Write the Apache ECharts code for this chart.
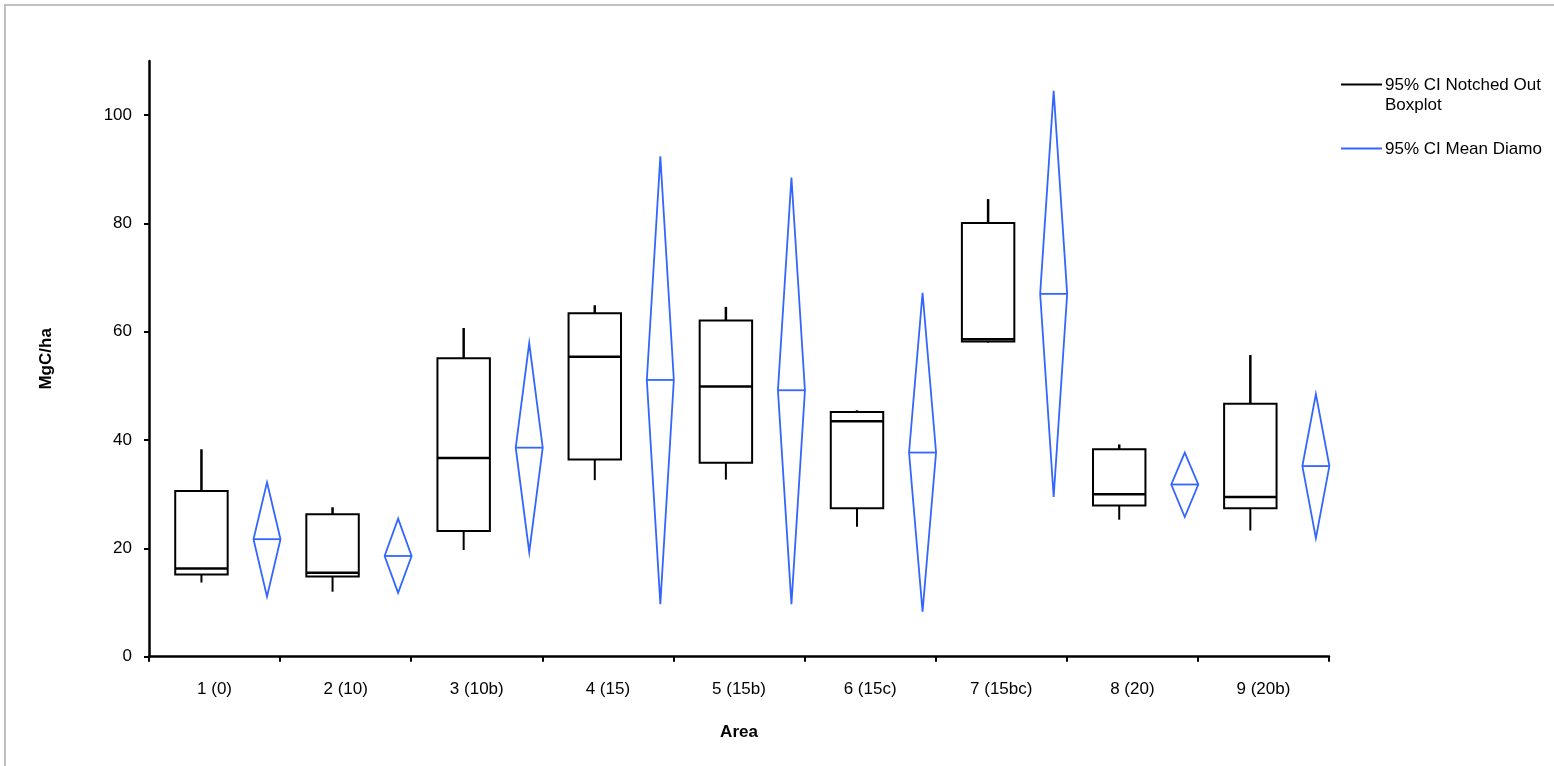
<!DOCTYPE html>
<html>
<head>
<meta charset="utf-8">
<script src="https://cdn.jsdelivr.net/npm/echarts@6/dist/echarts.min.js"></script>
<style>
html,body{margin:0;padding:0;background:#fff;}
#chart{width:1554px;height:766px;}
</style>
</head>
<body>
<div id="chart"></div>
<script>
// ---- data ----
var categories = ['1 (0)', '2 (10)', '3 (10b)', '4 (15)', '5 (15b)', '6 (15c)', '7 (15bc)', '8 (20)', '9 (20b)'];
var whiskerLow  = [13.7, 12.0, 19.7, 32.6, 32.7, 24.0, 58.0, 25.3, 23.3];
var q1          = [15.2, 14.8, 23.2, 36.4, 35.8, 27.4, 58.2, 27.9, 27.4];
var median      = [16.3, 15.5, 36.7, 55.4, 49.9, 43.5, 58.6, 30.0, 29.5];
var q3          = [30.6, 26.3, 55.1, 63.4, 62.1, 45.2, 80.1, 38.3, 46.7];
var whiskerHigh = [38.3, 27.6, 60.7, 64.9, 64.6, 45.5, 84.5, 39.2, 55.7];
var ciLow  = [11.1, 11.8, 19.3, 9.7, 9.7, 8.3, 29.5, 25.8, 21.9];
var mean   = [21.7, 18.6, 38.6, 51.1, 49.2, 37.7, 67.0, 31.8, 35.2];
var ciHigh = [32.2, 25.5, 57.9, 92.4, 88.5, 67.2, 104.5, 37.7, 48.5];
var yTicks = [0, 20, 40, 60, 80, 100];
var seriesNames = ['95% CI Notched Outlier Boxplot', '95% CI Mean Diamond'];
var legendLabels = ['95% CI Notched Outlier\nBoxplot', '95% CI Mean Diamond'];

var BLUE = '#3366ff';
var FONT = 'Liberation Sans, Arial, sans-serif';

var boxData = categories.map(function (c, i) {
  return [i, whiskerLow[i], q1[i], median[i], q3[i], whiskerHigh[i]];
});
var diaData = categories.map(function (c, i) {
  return [i, ciLow[i], mean[i], ciHigh[i]];
});

function renderBox(params, api) {
  var i = api.value(0);
  var bw = api.size([1, 0])[0];
  var cx = api.coord([i, 0])[0] - 0.1 * bw;
  var hw = 0.2 * bw;
  var yLo = api.coord([i, api.value(1)])[1];
  var yQ1 = api.coord([i, api.value(2)])[1];
  var yMed = api.coord([i, api.value(3)])[1];
  var yQ3 = api.coord([i, api.value(4)])[1];
  var yHi = api.coord([i, api.value(5)])[1];
  return {
    type: 'group',
    children: [
      {type: 'line', shape: {x1: cx, y1: yQ3, x2: cx, y2: yHi}, style: {stroke: '#000', lineWidth: 2.5}},
      {type: 'line', shape: {x1: cx, y1: yQ1, x2: cx, y2: yLo}, style: {stroke: '#000', lineWidth: 2}},
      {type: 'rect', shape: {x: cx - hw, y: yQ3, width: 2 * hw, height: yQ1 - yQ3}, style: {stroke: '#000', lineWidth: 2, fill: 'rgba(0,0,0,0)'}},
      {type: 'line', shape: {x1: cx - hw, y1: yMed, x2: cx + hw, y2: yMed}, style: {stroke: '#000', lineWidth: 2.5}}
    ]
  };
}

function renderDiamond(params, api) {
  var i = api.value(0);
  var bw = api.size([1, 0])[0];
  var cx = api.coord([i, 0])[0] + 0.4 * bw;
  var hw = 0.103 * bw;
  var yLo = api.coord([i, api.value(1)])[1];
  var yM = api.coord([i, api.value(2)])[1];
  var yHi = api.coord([i, api.value(3)])[1];
  return {
    type: 'group',
    children: [
      {type: 'polygon', shape: {points: [[cx, yHi], [cx + hw, yM], [cx, yLo], [cx - hw, yM]]}, style: {stroke: BLUE, lineWidth: 1.8, fill: 'rgba(0,0,0,0)'}},
      {type: 'line', shape: {x1: cx - hw, y1: yM, x2: cx + hw, y2: yM}, style: {stroke: BLUE, lineWidth: 1.8}}
    ]
  };
}

var chart = echarts.init(document.getElementById('chart'), null, {renderer: 'canvas'});
var option = {
  backgroundColor: '#fff',
  animation: false,
  textStyle: {fontFamily: FONT},
  grid: {left: 149, right: 225, top: 61, bottom: 109.3, containLabel: false},
  xAxis: {
    type: 'category',
    data: categories,
    boundaryGap: true,
    name: 'Area',
    nameLocation: 'middle',
    nameGap: 67,
    nameTextStyle: {fontFamily: FONT, fontSize: 17, fontWeight: 'bold', color: '#000'},
    axisLine: {lineStyle: {color: '#000', width: 2.5}},
    axisTick: {show: true, interval: 0, length: 5, alignWithLabel: false, lineStyle: {color: '#000', width: 2}},
    axisLabel: {interval: 0, margin: 24, fontFamily: FONT, fontSize: 17, color: '#000'},
    splitLine: {show: false}
  },
  yAxis: {
    type: 'value',
    min: 0,
    max: 110,
    name: 'MgC/ha',
    nameLocation: 'middle',
    nameGap: 94,
    nameRotate: 90,
    nameTextStyle: {fontFamily: FONT, fontSize: 17, fontWeight: 'bold', color: '#000'},
    axisLine: {show: true, lineStyle: {color: '#000', width: 2.5}},
    axisTick: {show: true, length: 5, customValues: yTicks, lineStyle: {color: '#000', width: 2}},
    axisLabel: {customValues: yTicks, margin: 17, fontFamily: FONT, fontSize: 17, color: '#000'},
    splitLine: {show: false}
  },
  series: [
    {name: seriesNames[0], type: 'custom', renderItem: renderBox, data: boxData, encode: {x: 0, y: [1, 2, 3, 4, 5]}, clip: false, z: 3},
    {name: seriesNames[1], type: 'custom', renderItem: renderDiamond, data: diaData, encode: {x: 0, y: [1, 2, 3]}, clip: false, z: 3}
  ],
  graphic: [
    {type: 'rect', shape: {x: 5, y: 5, width: 1600, height: 800}, style: {stroke: '#c0c0c0', lineWidth: 2, fill: null}, silent: true, z: 0},
    {type: 'line', shape: {x1: 1341, y1: 84.5, x2: 1382, y2: 84.5}, style: {stroke: '#000', lineWidth: 2}},
    {type: 'text', x: 1385, y: 75.5, style: {text: legendLabels[0], fontFamily: FONT, fontSize: 17, lineHeight: 20, fill: '#000', width: 158, overflow: 'truncate', ellipsis: '', textVerticalAlign: 'top'}},
    {type: 'line', shape: {x1: 1341, y1: 148.5, x2: 1382, y2: 148.5}, style: {stroke: BLUE, lineWidth: 2}},
    {type: 'text', x: 1385, y: 139.5, style: {text: legendLabels[1], fontFamily: FONT, fontSize: 17, lineHeight: 20, fill: '#000', width: 162, overflow: 'truncate', ellipsis: '', textVerticalAlign: 'top'}}
  ]
};
chart.setOption(option);
</script>
</body>
</html>
